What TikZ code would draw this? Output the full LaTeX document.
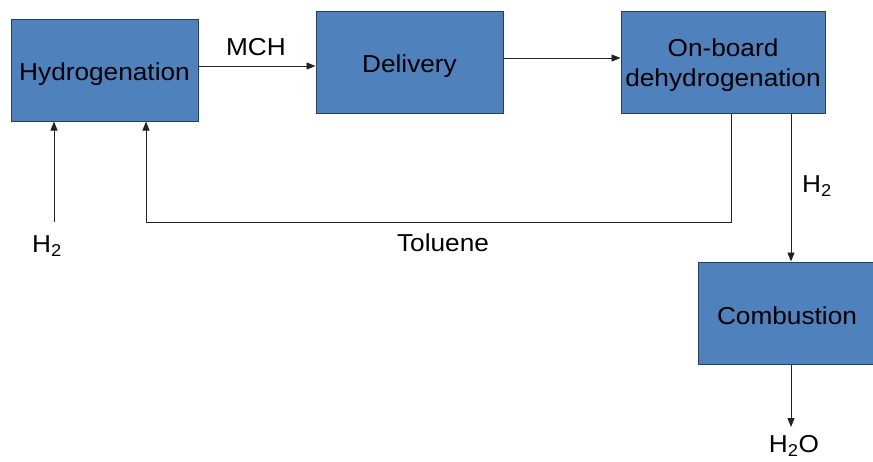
\documentclass[tikz,border=0pt]{standalone}
\usepackage{fontspec}
\setmainfont[FakeStretch=1.07]{Liberation Sans}
\usetikzlibrary{arrows.meta}
\definecolor{boxfill}{HTML}{4F81BD}
\definecolor{boxline}{HTML}{25405F}
\definecolor{lineclr}{HTML}{222222}
\begin{document}
\begin{tikzpicture}[x=1pt,y=-1pt,
  procbox/.style={draw=boxline,fill=boxfill,line width=1pt,inner sep=0pt,
    align=center,font=\fontsize{24.5}{30}\selectfont},
  arr/.style={draw=lineclr,line width=0.9pt,-{Triangle[length=9pt,width=7pt]}},
  lbl/.style={inner sep=0pt,font=\fontsize{24.5}{30}\selectfont}]
\useasboundingbox (0,0) rectangle (873,461);
\node[procbox,minimum width=187pt,minimum height=102pt,text height=26pt,text depth=5pt] (hyd) at (104.5,70) {Hydrogenation};
\node[procbox,minimum width=187pt,minimum height=102pt,text height=26pt,text depth=5pt] (del) at (409.5,62) {Delivery};
\node[procbox,minimum width=204pt,minimum height=102pt,text height=54pt,text depth=5pt] (onb) at (723,62) {On-board\\dehydrogenation};
\node[procbox,minimum width=178pt,minimum height=102pt,text height=22pt,text depth=0pt] (comb) at (787,313) {Combustion};
\coordinate (h2in) at (54,222);
\coordinate (tolc) at (146,222);
\coordinate (h2out) at (791,427);
\draw[arr] (hyd.east |- 0,66) -- (del.west |- 0,66);
\draw[arr] (del.east |- 0,58) -- (onb.west |- 0,58);
\draw[arr] (h2in) -- (hyd.south -| h2in);
\draw[arr] (onb.south -| 731,0) |- (tolc) -- (hyd.south -| tolc);
\draw[arr] (onb.south -| 791,0) -- (comb.north -| 791,0);
\draw[arr] (comb.south -| h2out) -- (h2out);
\node[lbl] (mch) at (256,47) {MCH};
\node[lbl] (tol) at (443,243) {Toluene};
\node[lbl] (h2a) at (47,246) {H\textsubscript{2}};
\node[lbl] (h2b) at (817,186) {H\textsubscript{2}};
\node[lbl] (h2o) at (794,446) {H\textsubscript{2}O};
\end{tikzpicture}
\end{document}
